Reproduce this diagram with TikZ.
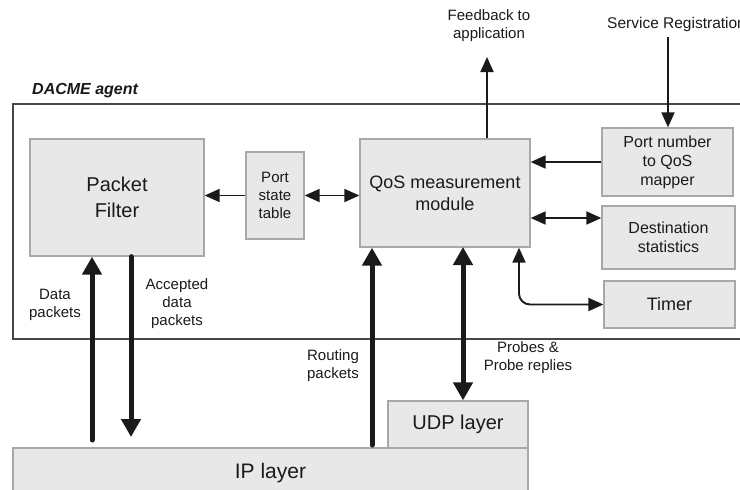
\documentclass[tikz,border=0pt]{standalone}
\usepackage{fontspec}
\setmainfont{Liberation Sans}
\usetikzlibrary{arrows.meta}
\definecolor{boxfill}{HTML}{E8E8E8}
\definecolor{boxline}{HTML}{A8A8A8}
\definecolor{ink}{HTML}{1A1A1A}
\begin{document}
\begin{tikzpicture}[x=1pt,y=-1pt,
  box/.style={draw=boxline, fill=boxfill, line width=1.3pt, inner sep=0pt, align=center, text=ink},
  lbl/.style={align=center, text=ink, font=\fontsize{15}{18}\selectfont, inner sep=0pt},
  thinarrow/.style={draw=ink, line width=1.9pt, >={Triangle[length=15pt,width=13pt]}},
  thickarrow/.style={draw=ink, line width=5pt, line cap=round, >={Triangle[length=18pt,width=19pt]}}
]
\useasboundingbox (0,0) rectangle (740,490);
% agent frame
\draw[draw=ink!80, line width=1.3pt] (13,104) rectangle (780,339);
\node[anchor=west, text=ink, inner sep=0pt, font=\fontsize{16}{19}\selectfont\bfseries\itshape] (agentlbl) at (32,91) {DACME agent};
% boxes
\node[box, minimum width=174pt, minimum height=117pt, font=\fontsize{20}{26}\selectfont] (pf) at (117,197.5) {Packet\\Filter};
\node[box, minimum width=58pt, minimum height=87pt, font=\fontsize{15}{18}\selectfont] (pst) at (275,195.5) {Port\\state\\table};
\node[box, minimum width=170pt, minimum height=108pt, font=\fontsize{18}{22}\selectfont] (qos) at (445,193) {QoS measurement\\module};
\node[box, minimum width=131pt, minimum height=68pt, font=\fontsize{16}{19}\selectfont] (map) at (667.5,162) {Port number\\to QoS\\mapper};
\node[box, minimum width=133pt, minimum height=63pt, font=\fontsize{16}{19}\selectfont] (dest) at (668.5,237.5) {Destination\\statistics};
\node[box, minimum width=131pt, minimum height=47pt, font=\fontsize{18}{22}\selectfont] (timer) at (669.5,304.5) {Timer};
\node[box, minimum width=515pt, minimum height=60pt] (ip) at (270.5,478) {};
\node[text=ink, font=\fontsize{21}{25}\selectfont, inner sep=0pt] (iptext) at (270.5,473) {IP layer};
\node[box, minimum width=140pt, minimum height=47pt, font=\fontsize{20}{24}\selectfont] (udp) at (458,424.5) {UDP layer};
% texts
\node[lbl] (fbtext) at (489,26) {Feedback to\\application};
\node[lbl, anchor=west, font=\fontsize{15.5}{18}\selectfont] (srtext) at (607,24) {Service Registration};
\node[lbl] (dptext) at (55,305) {Data\\packets};
\node[lbl] (adtext) at (177,304) {Accepted\\data\\packets};
\node[lbl] (rptext) at (333,366) {Routing\\packets};
\node[lbl] (prtext) at (528,358) {Probes \&\\Probe replies};
% free ends
\coordinate (fb) at (487,57);
\coordinate (sr) at (668,37);
\coordinate (d1) at (92,440);
\coordinate (a1) at (131,437);
\coordinate (r1) at (372,445);
\coordinate (p1) at (463,247);
% thin connectors
\draw[thinarrow,->] (pst.west) -- (pf.east |- pst.west);
\draw[thinarrow,<->] (pst.east) -- (qos.west |- pst.east);
\draw[thinarrow,->] (map.west) -- (qos.east |- map.west);
\draw[thinarrow,<->] ([yshift=-25pt]qos.east) -- ([yshift=-25pt]qos.east -| dest.west);
\draw[thinarrow,<->, rounded corners=11pt] ([xshift=74pt]qos.south) |- (timer.west);
\draw[thinarrow,->] (fb |- qos.north) -- (fb);
\draw[thinarrow,->] (sr) -- (sr |- map.north);
% thick connectors
\draw[thickarrow,->] (d1) -- (d1 |- pf.south);
\draw[thickarrow,->] (a1 |- pf.south) -- (a1);
\draw[thickarrow,->] (r1) -- (r1 |- qos.south);
\draw[thickarrow,<->] (p1) -- (p1 |- udp.north);
\end{tikzpicture}
\end{document}
